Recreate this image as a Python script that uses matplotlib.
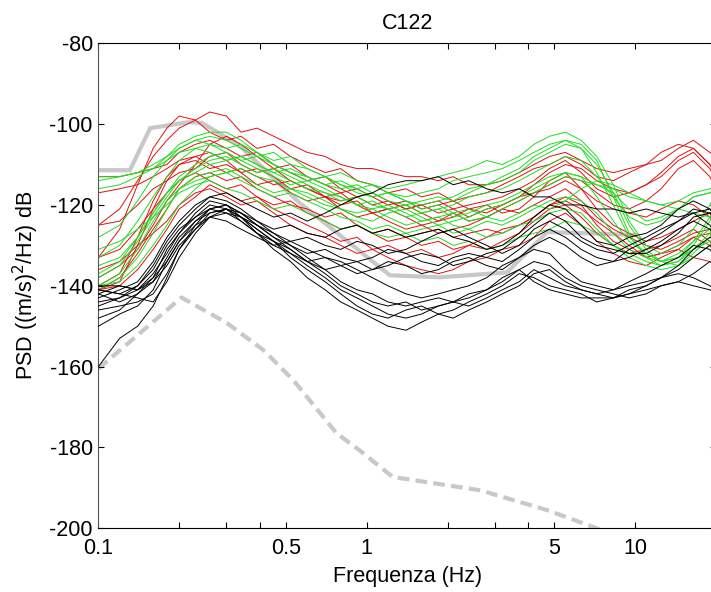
import matplotlib
matplotlib.use('Agg')
import matplotlib.pyplot as plt
from matplotlib import ticker
import numpy as np

plt.rcParams.update({'font.family': 'Liberation Sans', 'font.size': 15.5,
                     'axes.unicode_minus': False})

# frequency grid (Hz) shared by all station spectra
freq = [0.1, 0.12, 0.14, 0.16, 0.18, 0.2, 0.23, 0.26, 0.3, 0.34,
        0.39, 0.45, 0.52, 0.6, 0.7, 0.8, 0.92, 1.05, 1.2, 1.4,
        1.6, 1.85, 2.1, 2.4, 2.8, 3.2, 3.7, 4.2, 4.8, 5.5,
        6.3, 7.2, 8.3, 9.5, 11, 12.5, 14.5, 16.5, 19, 20]

# noise models
nhnm_f = [0.1, 0.131, 0.156, 0.218, 0.243, 0.334, 0.558, 1.22, 1.87, 3.33, 4.7, 10.0]
nhnm_db = [-111.4, -111.4, -101.0, -99.5, -99.7, -105.2, -119.3, -137.4, -137.9, -136.7, -126.7, -127.4]
nlnm_f = [0.1, 0.204, 0.301, 0.412, 0.532, 0.772, 0.94, 1.25, 2.65, 4.7, 7.2, 10.0]
nlnm_db = [-160.5, -142.9, -149.2, -155.9, -163.3, -176.5, -180.7, -187.3, -190.6, -195.5, -200.0, -204.0]

red_psd = [
    [-125, -121, -114, -108, -104, -101, -99, -97, -98, -102,
     -101, -103, -105, -107, -108, -110, -111, -111, -112, -113,
     -113, -114, -113, -115, -115, -114, -112, -110, -108, -107,
     -109, -111, -112, -111, -110, -109, -106, -104, -107, -108],
    [-133, -126, -115, -106, -101, -98, -99, -102, -104, -103,
     -106, -105, -108, -110, -112, -111, -114, -115, -117, -116,
     -118, -117, -119, -118, -117, -115, -113, -111, -110, -108,
     -110, -113, -114, -112, -110, -107, -105, -106, -110, -112],
    [-113, -113, -112, -111, -110, -107, -105, -104, -106, -108,
     -107, -110, -112, -114, -113, -116, -118, -117, -119, -121,
     -120, -122, -121, -123, -121, -120, -118, -115, -112, -110,
     -111, -114, -116, -117, -115, -112, -108, -106, -110, -113],
    [-141, -139, -130, -121, -114, -110, -108, -107, -109, -112,
     -111, -113, -116, -115, -118, -120, -119, -122, -121, -123,
     -125, -124, -122, -124, -123, -121, -119, -117, -115, -113,
     -114, -117, -120, -121, -119, -116, -111, -109, -113, -116],
    [-140, -137, -128, -119, -113, -110, -109, -111, -110, -112,
     -115, -114, -117, -119, -118, -121, -123, -122, -124, -126,
     -125, -127, -126, -125, -123, -121, -122, -120, -118, -116,
     -119, -123, -126, -128, -130, -131, -129, -127, -126, -128],
    [-125, -124, -120, -116, -114, -112, -111, -108, -107, -110,
     -112, -111, -114, -116, -118, -117, -120, -122, -121, -120,
     -122, -124, -123, -121, -120, -122, -121, -118, -114, -112,
     -116, -121, -125, -127, -129, -128, -126, -124, -122, -121],
    [-133, -131, -126, -121, -117, -114, -112, -114, -116, -115,
     -118, -120, -119, -122, -124, -126, -125, -127, -126, -128,
     -127, -126, -128, -127, -126, -127, -125, -123, -120, -119,
     -121, -124, -127, -130, -133, -132, -131, -133, -134, -135],
    [-141, -138, -132, -126, -121, -116, -113, -112, -114, -113,
     -116, -118, -120, -121, -123, -122, -125, -127, -129, -128,
     -130, -129, -131, -130, -128, -126, -125, -123, -120, -118,
     -120, -125, -129, -131, -133, -132, -130, -128, -127, -129],
    [-136, -134, -130, -127, -124, -120, -117, -116, -118, -120,
     -119, -122, -125, -127, -128, -130, -132, -131, -133, -135,
     -136, -137, -136, -134, -133, -131, -130, -128, -124, -122,
     -125, -129, -132, -134, -135, -133, -131, -128, -130, -132],
    [-138, -135, -131, -125, -119, -115, -110, -105, -103, -105,
     -108, -111, -110, -113, -115, -117, -116, -118, -120, -119,
     -121, -120, -119, -121, -122, -120, -118, -117, -116, -114,
     -116, -119, -121, -122, -123, -121, -119, -120, -123, -125],
    [-117, -116, -115, -113, -111, -109, -108, -110, -112, -111,
     -113, -115, -114, -116, -118, -119, -118, -120, -119, -121,
     -120, -119, -121, -120, -119, -118, -116, -114, -111, -109,
     -112, -116, -118, -117, -115, -113, -109, -107, -111, -114],
    [-141, -140, -136, -131, -126, -121, -118, -115, -117, -119,
     -118, -121, -123, -125, -127, -129, -128, -131, -130, -132,
     -131, -133, -132, -130, -131, -129, -127, -124, -121, -120,
     -123, -127, -130, -132, -131, -130, -128, -126, -129, -131],
]

green_psd = [
    [-114, -113, -112, -110, -108, -106, -104, -103, -104, -106,
     -108, -107, -110, -111, -113, -112, -114, -115, -116, -115,
     -114, -113, -112, -111, -109, -110, -108, -105, -103, -102,
     -104, -108, -115, -124, -130, -132, -130, -126, -120, -117],
    [-116, -115, -113, -111, -108, -105, -103, -102, -102, -104,
     -107, -109, -108, -111, -113, -115, -116, -115, -117, -118,
     -117, -116, -114, -113, -112, -111, -109, -107, -105, -104,
     -106, -112, -120, -128, -132, -134, -133, -129, -123, -120],
    [-128, -125, -119, -113, -109, -106, -104, -105, -106, -105,
     -107, -110, -112, -113, -115, -116, -115, -117, -119, -120,
     -119, -118, -119, -117, -115, -114, -112, -109, -107, -105,
     -106, -110, -117, -125, -131, -134, -133, -131, -127, -124],
    [-133, -130, -124, -118, -113, -109, -106, -107, -109, -108,
     -110, -112, -114, -116, -117, -119, -118, -120, -121, -120,
     -122, -121, -120, -118, -117, -116, -114, -112, -110, -108,
     -109, -113, -118, -123, -125, -124, -121, -118, -117, -116],
    [-138, -135, -129, -123, -118, -114, -111, -109, -108, -110,
     -112, -111, -113, -115, -117, -118, -120, -119, -121, -123,
     -122, -121, -123, -122, -120, -119, -117, -115, -113, -112,
     -113, -115, -116, -118, -119, -120, -119, -117, -116, -115],
    [-141, -138, -133, -127, -121, -116, -113, -112, -111, -113,
     -115, -117, -116, -118, -120, -121, -122, -121, -123, -125,
     -124, -123, -122, -124, -123, -121, -119, -117, -115, -113,
     -114, -115, -117, -121, -124, -123, -121, -118, -117, -116],
    [-140, -139, -135, -130, -125, -120, -116, -113, -112, -111,
     -113, -114, -116, -117, -119, -121, -123, -124, -122, -121,
     -123, -125, -124, -123, -121, -120, -118, -116, -114, -112,
     -113, -118, -124, -129, -132, -134, -135, -132, -128, -125],
    [-135, -133, -128, -122, -117, -113, -110, -108, -107, -109,
     -111, -113, -115, -114, -116, -118, -120, -121, -120, -122,
     -124, -123, -125, -126, -124, -125, -123, -121, -119, -118,
     -119, -122, -127, -131, -133, -134, -132, -129, -126, -124],
    [-131, -129, -126, -123, -120, -117, -115, -114, -116, -117,
     -119, -121, -120, -122, -124, -126, -125, -127, -128, -127,
     -129, -128, -130, -129, -131, -130, -128, -127, -126, -124,
     -125, -127, -130, -132, -134, -135, -134, -131, -129, -128],
    [-113, -113, -112, -111, -109, -107, -106, -105, -107, -109,
     -108, -110, -112, -114, -113, -115, -117, -118, -117, -119,
     -120, -119, -118, -116, -115, -113, -111, -108, -106, -104,
     -105, -109, -118, -127, -133, -135, -134, -130, -124, -121],
    [-137, -134, -128, -122, -117, -114, -112, -110, -109, -108,
     -110, -112, -111, -113, -115, -114, -116, -118, -117, -119,
     -121, -120, -122, -121, -123, -124, -122, -120, -121, -119,
     -116, -114, -115, -117, -119, -120, -121, -122, -123, -122],
    [-140, -137, -131, -124, -119, -116, -114, -113, -112, -114,
     -116, -118, -117, -119, -121, -123, -124, -126, -125, -127,
     -126, -125, -127, -126, -128, -127, -125, -124, -122, -121,
     -122, -126, -130, -133, -135, -136, -135, -133, -130, -128],
]

black_psd = [
    [-141, -142, -140, -135, -129, -125, -121, -118, -117, -119,
     -121, -123, -122, -124, -122, -120, -118, -117, -115, -114,
     -114, -113, -115, -114, -116, -117, -116, -118, -118, -120,
     -120, -121, -121, -122, -121, -122, -123, -122, -121, -122],
    [-143, -141, -139, -134, -128, -124, -120, -118, -119, -121,
     -124, -126, -125, -127, -128, -126, -125, -127, -126, -128,
     -127, -126, -128, -129, -131, -130, -127, -123, -120, -121,
     -125, -129, -130, -128, -127, -125, -121, -119, -121, -123],
    [-140, -140, -141, -138, -131, -127, -122, -119, -120, -122,
     -125, -127, -129, -128, -130, -131, -129, -130, -132, -131,
     -129, -127, -126, -128, -130, -132, -130, -126, -124, -126,
     -129, -131, -132, -130, -128, -126, -124, -121, -122, -124],
    [-144, -143, -140, -136, -130, -126, -123, -121, -122, -123,
     -125, -128, -130, -132, -131, -133, -134, -133, -131, -132,
     -134, -135, -133, -132, -133, -134, -131, -128, -126, -128,
     -131, -133, -134, -133, -131, -129, -126, -124, -126, -128],
    [-142, -144, -142, -139, -133, -128, -124, -122, -121, -123,
     -126, -129, -131, -134, -136, -135, -134, -136, -135, -133,
     -132, -133, -135, -134, -132, -131, -128, -125, -122, -124,
     -128, -130, -131, -132, -132, -130, -127, -123, -122, -123],
    [-145, -143, -141, -137, -132, -127, -123, -120, -121, -124,
     -127, -129, -132, -134, -133, -135, -137, -136, -134, -135,
     -137, -136, -134, -133, -135, -136, -133, -130, -128, -130,
     -133, -135, -134, -131, -129, -127, -124, -122, -125, -127],
    [-150, -147, -145, -141, -134, -129, -124, -121, -120, -122,
     -125, -128, -131, -134, -137, -140, -142, -144, -145, -144,
     -146, -145, -144, -143, -141, -138, -136, -139, -141, -142,
     -143, -143, -143, -142, -141, -140, -139, -137, -134, -135],
    [-160, -153, -150, -145, -138, -131, -126, -122, -121, -123,
     -126, -129, -133, -136, -139, -142, -145, -147, -148, -146,
     -145, -147, -146, -144, -142, -140, -137, -138, -140, -141,
     -142, -144, -143, -142, -140, -138, -136, -133, -130, -131],
    [-141, -142, -143, -144, -139, -133, -127, -123, -122, -124,
     -127, -131, -134, -138, -141, -144, -146, -148, -150, -151,
     -149, -147, -148, -146, -144, -142, -140, -137, -136, -139,
     -141, -142, -141, -140, -139, -138, -137, -138, -140, -141],
    [-146, -145, -144, -142, -137, -131, -125, -121, -120, -123,
     -127, -130, -132, -135, -138, -141, -143, -145, -147, -148,
     -147, -145, -144, -145, -143, -141, -139, -136, -138, -140,
     -141, -142, -143, -141, -140, -138, -135, -131, -128, -129],
    [-142, -140, -141, -139, -135, -130, -126, -123, -121, -122,
     -124, -127, -130, -133, -136, -139, -141, -142, -144, -145,
     -144, -143, -144, -142, -141, -139, -136, -134, -135, -138,
     -140, -141, -142, -143, -142, -140, -139, -140, -141, -142],
    [-148, -146, -142, -138, -134, -129, -125, -123, -124, -126,
     -128, -130, -129, -131, -133, -134, -136, -138, -140, -142,
     -143, -142, -141, -140, -138, -135, -133, -131, -132, -136,
     -139, -140, -141, -139, -137, -135, -133, -130, -131, -133],
]

xticks = [0.1, 0.2, 0.3, 0.4, 0.5, 1, 2, 3, 4, 5, 10, 20]
xticklabels = ['0.1', '', '', '', '0.5', '1', '', '', '', '5', '10', '']
yticks = [-200, -180, -160, -140, -120, -100, -80]

fig = plt.figure(figsize=(7.11, 5.92), dpi=100)
ax = fig.add_axes([0.1384, 0.1076, 0.8684, 0.8193])

grey = '#c8c8c8'
ax.plot(nhnm_f, nhnm_db, color=grey, lw=3, solid_joinstyle='miter', zorder=1)
ax.plot(nlnm_f, nlnm_db, color=grey, lw=3, ls=(0, (2.8, 1.5)), zorder=1)

for psd in red_psd:
    ax.plot(freq, psd, color='#e01010', lw=0.7, zorder=2)
for psd in green_psd:
    ax.plot(freq, psd, color='#20dd20', lw=0.7, zorder=2)
for psd in black_psd:
    ax.plot(freq, psd, color='k', lw=0.7, zorder=3)

ax.set_xscale('log')
ax.set_xlim(0.1, 20)
ax.set_ylim(-200, -80)
ax.xaxis.set_major_locator(ticker.FixedLocator(xticks))
ax.xaxis.set_major_formatter(ticker.FixedFormatter(xticklabels))
ax.xaxis.set_minor_locator(ticker.NullLocator())
ax.set_yticks(yticks)
ax.set_yticklabels([str(v) for v in yticks])

for side, s in ax.spines.items():
    s.set_linewidth(0.8)
ax.spines['left'].set_color('#555555')
ax.tick_params(which='both', direction='in', length=4.3, width=0.8,
               top=True, right=True)
ax.tick_params(axis='y', pad=4)
ax.tick_params(axis='x', pad=7)

ax.set_title('C122', fontsize=15.5, pad=10)
ax.set_xlabel('Frequenza (Hz)', labelpad=5)
ax.set_ylabel(r'PSD ((m/s)$^2$/Hz) dB', labelpad=6)

fig.savefig('out.png', dpi=100)
